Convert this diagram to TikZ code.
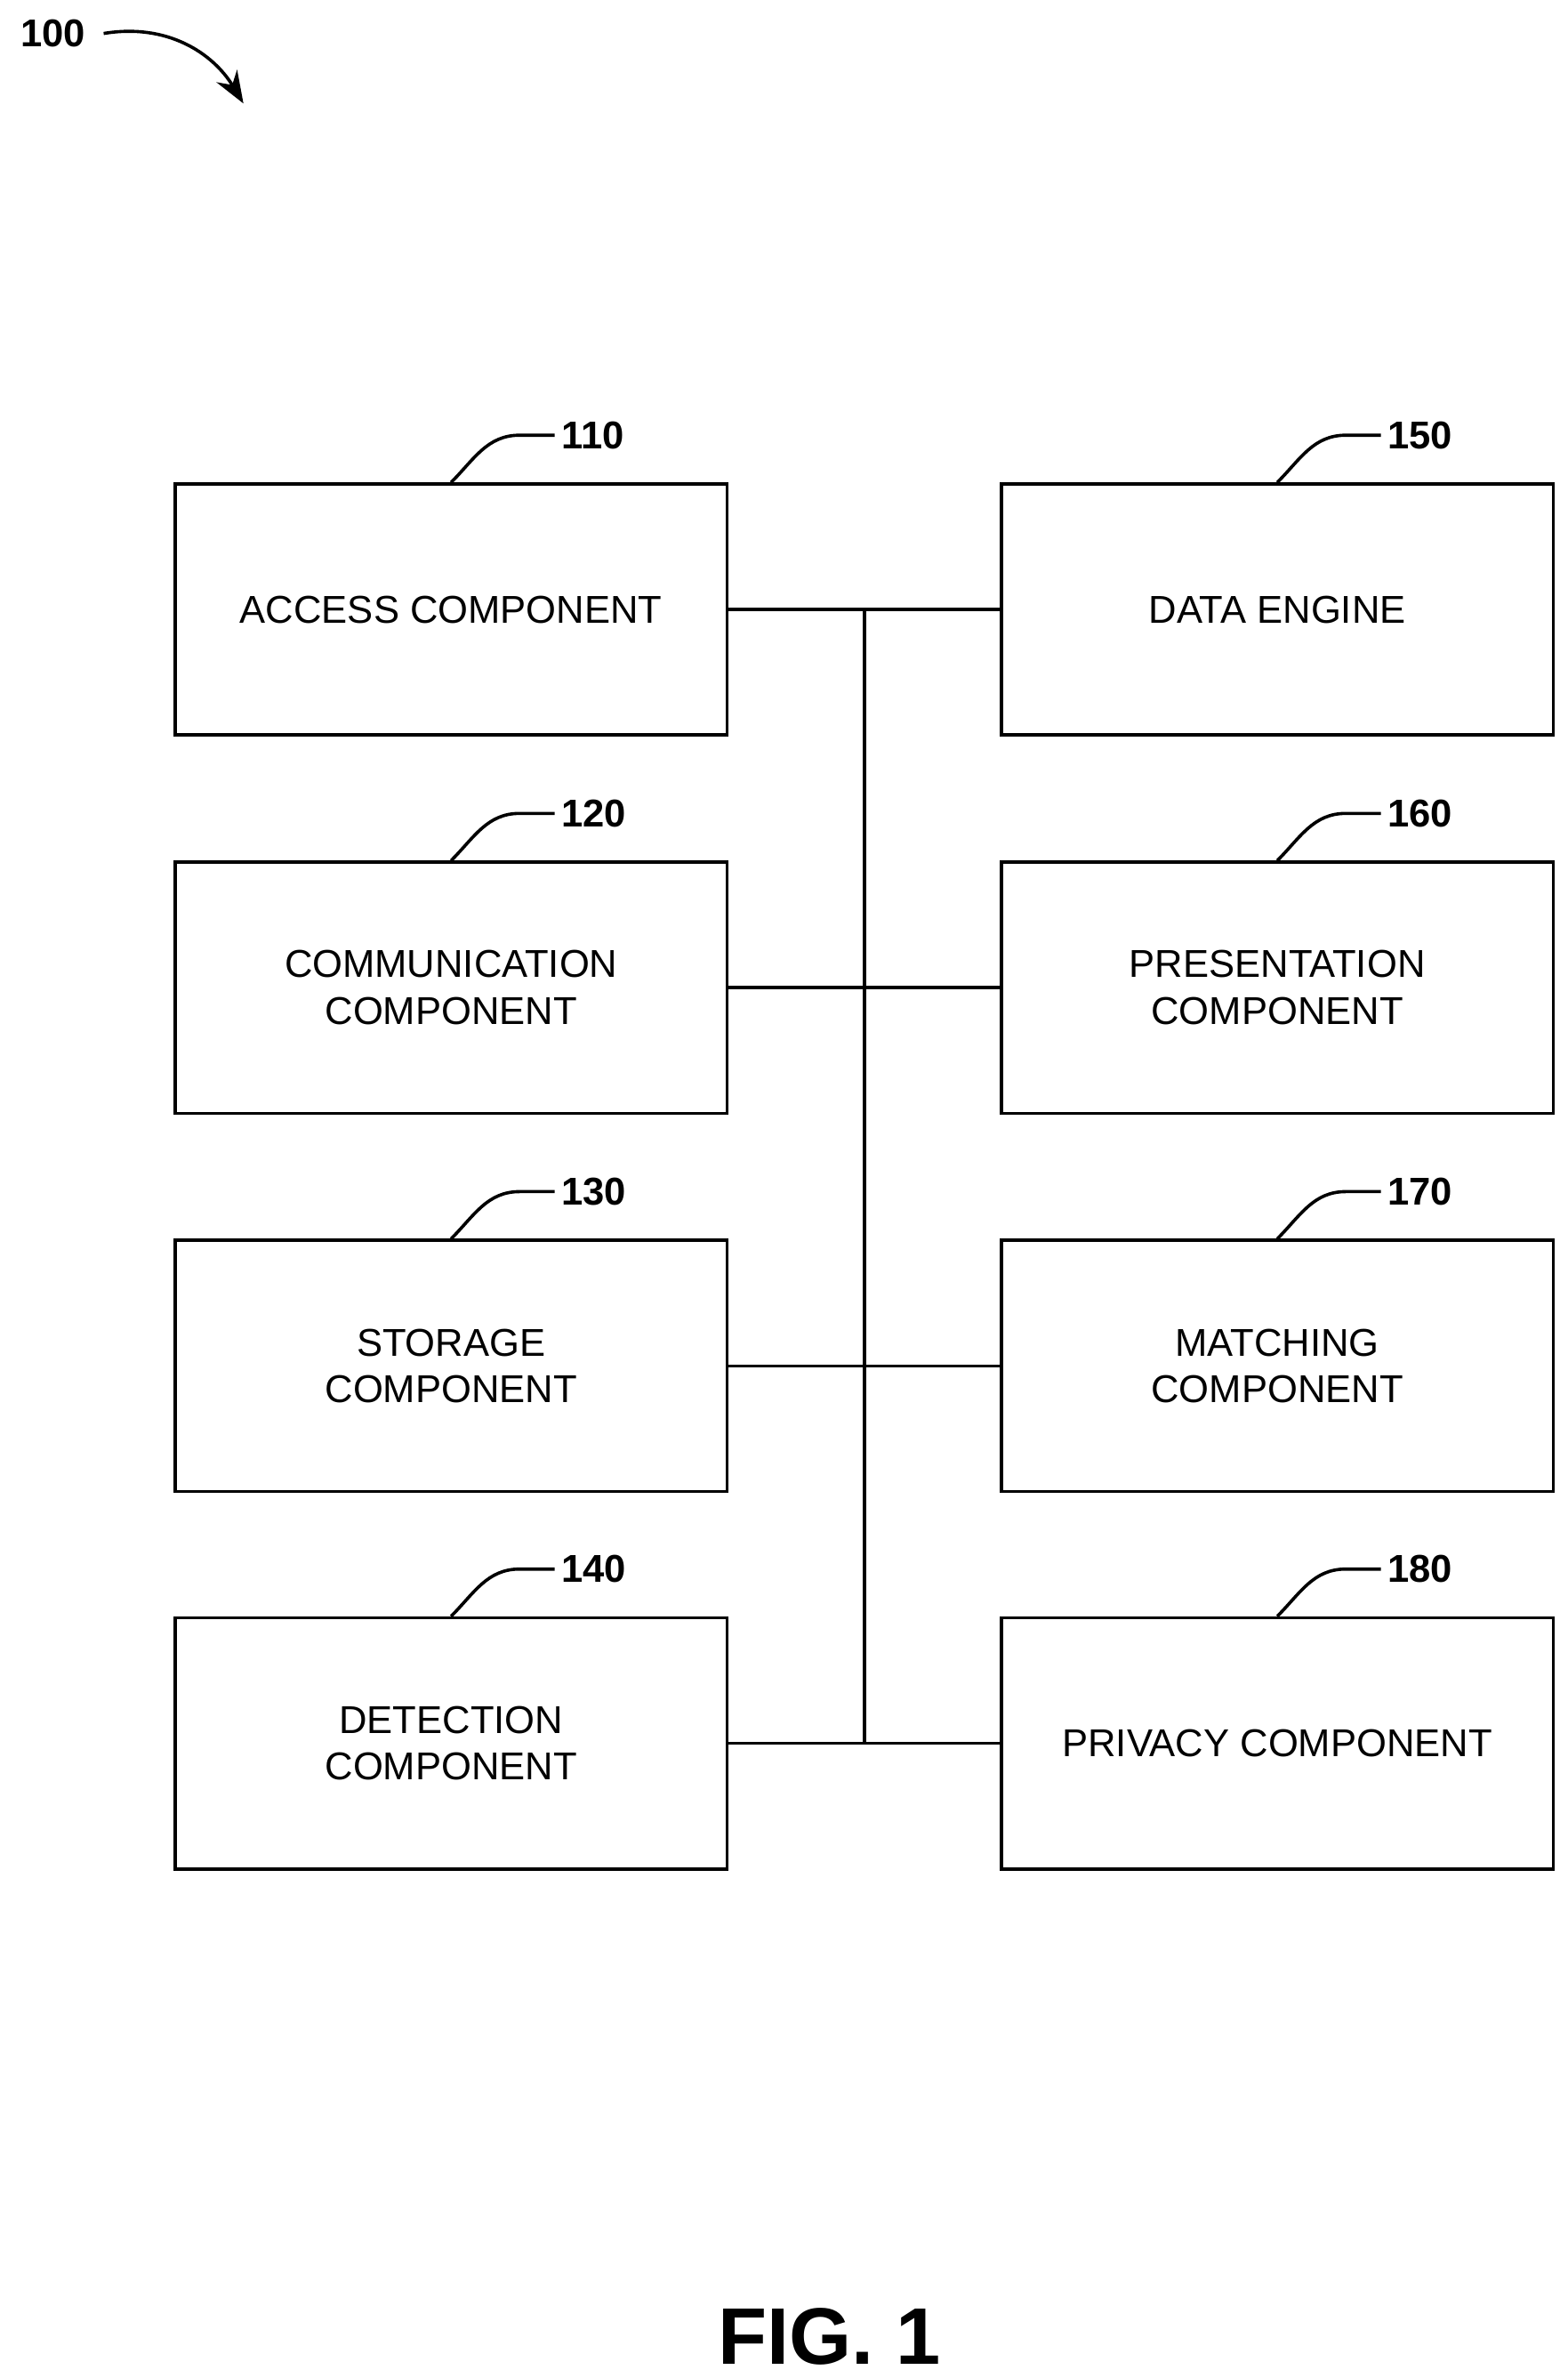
\documentclass[tikz,border=0pt]{standalone}
\usepackage{fontspec}
\setmainfont{Liberation Sans}
\usetikzlibrary{arrows.meta}
\tikzset{
  comp/.style={draw=black, line width=1.2pt, rectangle, minimum width=7.26cm, minimum height=3.3cm, align=center, font=\fontsize{14.5}{17.5}\selectfont},
  wire/.style={line width=1.2pt},
  refnum/.style={font=\bfseries\fontsize{14.5}{17}\selectfont, anchor=west, inner sep=2pt}
}
\begin{document}
\begin{tikzpicture}[x=0.02cm, y=-0.02cm]
  \useasboundingbox (0,0) rectangle (1030,1562.5);
  % ref
  \node (fig100) [refnum, anchor=center] at (35,22) {100};
  \coordinate (arrowend) at (160,68);
  \draw[wire, -{Stealth[length=12pt,width=9pt]}] (fig100.east) ++(8,0) .. controls (110,15) and (140,35) .. (arrowend);
  % left column
  \node (access) [comp] at (296.5,400.5) {ACCESS COMPONENT};
  \node (comm) [comp] at (296.5,649) {COMMUNICATION\\COMPONENT};
  \node (storage) [comp] at (296.5,897.5) {STORAGE\\COMPONENT};
  \node (detect) [comp] at (296.5,1145.5) {DETECTION\\COMPONENT};
  % right column
  \node (engine) [comp] at (839.5,400.5) {DATA ENGINE};
  \node (present) [comp] at (839.5,649) {PRESENTATION\\COMPONENT};
  \node (match) [comp] at (839.5,897.5) {MATCHING\\COMPONENT};
  \node (privacy) [comp] at (839.5,1145.5) {PRIVACY COMPONENT};
  % bus
  \coordinate (busTop) at (568,400.5);
  \coordinate (busBot) at (568,1145.5);
  \draw[wire] (busTop) -- (busBot);
  \foreach \l/\r in {access/engine, comm/present, storage/match, detect/privacy}
    \draw[wire] (\l.east) -- (\r.west);
  % leaders
  \foreach \b/\n in {access/110, comm/120, storage/130, detect/140, engine/150, present/160, match/170, privacy/180}{
    \draw[wire] (\b.north) to[out=45,in=180] ++(45,-31) -- ++(23,0) node (lbl\n) [refnum] {\n};
  }
  \node (caption) [font=\bfseries\fontsize{30}{34}\selectfont] at (545,1535) {FIG. 1};
\end{tikzpicture}
\end{document}
